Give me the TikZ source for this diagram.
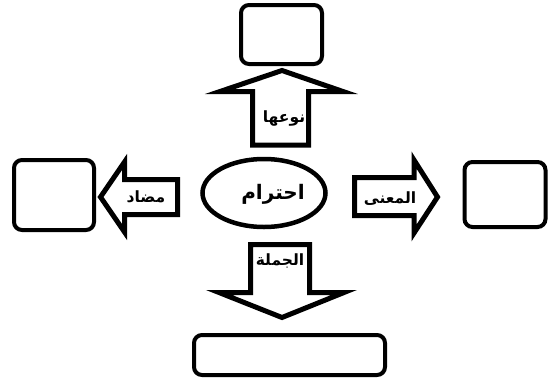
\documentclass[tikz,border=0pt]{standalone}
\usepackage{fontspec}
\usetikzlibrary{shapes.geometric}
\newfontfamily\arabicfont[Script=Arabic]{DejaVu Sans}
\TeXXeTstate=1
\begin{document}
\begin{tikzpicture}[x=1pt,y=-1pt,
  box/.style={draw=black,line width=4pt,rounded corners=8pt,fill=white,inner sep=0pt},
  blockarrow/.style={draw=black,line width=5pt,fill=white,line join=miter,miter limit=20},
  lbl/.style={font=\arabicfont\bfseries\fontsize{15.5}{18}\selectfont,inner sep=0pt},
  big/.style={font=\arabicfont\bfseries\fontsize{20}{24}\selectfont,inner sep=0pt}]
\useasboundingbox[fill=white] (0,0) rectangle (548,380);
% boxes
\node[box,minimum width=81pt,minimum height=59pt] (top) at (281.5,34.5) {};
\node[box,minimum width=80pt,minimum height=70pt] (left) at (54,195) {};
\node[box,minimum width=81pt,minimum height=65pt] (right) at (505,194.5) {};
\node[box,minimum width=191pt,minimum height=40pt] (bottom) at (289.5,355) {};
% center ellipse
\node[draw=black,line width=4.5pt,ellipse,minimum width=123pt,minimum height=68pt,inner sep=0pt] (c) at (264,193) {};
% block arrows
\draw[blockarrow] (282,70.5) -- (343,91.5) -- (308.5,91.5) -- (308.5,145) -- (252.5,145) -- (252.5,91.5) -- (220,91.5) -- cycle;
\draw[blockarrow] (250.5,244.5) -- (309.5,244.5) -- (309.5,292.5) -- (344,292.5) -- (282,317.5) -- (219,292.5) -- (250.5,292.5) -- cycle;
\draw[blockarrow] (100.5,197) -- (124.5,162) -- (124.5,179.5) -- (177.5,179.5) -- (177.5,214.5) -- (124.5,214.5) -- (124.5,232) -- cycle;
\draw[blockarrow] (354.5,177.5) -- (414,177.5) -- (414,160) -- (437.5,197) -- (414,233) -- (414,215.5) -- (354.5,215.5) -- cycle;
% labels
\node[big] (t0) at (273,194) {\beginR احترام\endR};
\node[lbl] (t1) at (284,119) {\beginR نوعها\endR};
\node[lbl] (t2) at (146,197) {\beginR مضاد\endR};
\node[lbl] (t3) at (390,199) {\beginR المعنى\endR};
\node[lbl] (t4) at (280,261) {\beginR الجملة\endR};
\end{tikzpicture}
\end{document}
